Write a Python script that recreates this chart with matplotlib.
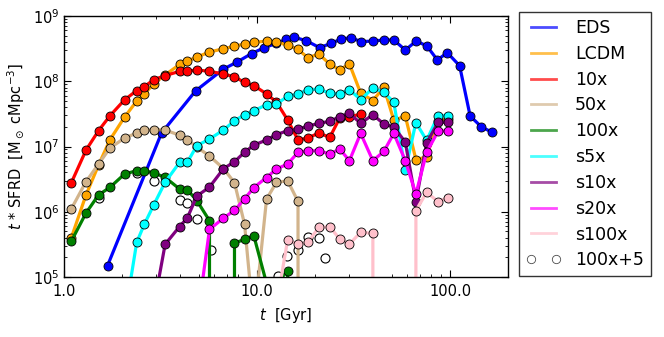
import numpy as np
import matplotlib
matplotlib.use('Agg')
import matplotlib.pyplot as plt
from matplotlib.lines import Line2D
from matplotlib.ticker import FormatStrFormatter

nan = np.nan

# shared output times of the runs [Gyr]
t_grid = [1.09, 1.30, 1.51, 1.73, 2.06, 2.38, 2.61, 2.92, 3.34, 3.97, 4.35, 4.88,
          5.67, 6.70, 7.64, 8.61, 9.62, 11.2, 12.6, 14.4, 16.3, 18.3, 20.9, 23.8,
          26.8, 30.1, 34.4, 39.8, 45.4, 51.1, 58.6, 66.5, 75.6, 86.6, 97.0]

# EDS has its own output times
t_eds = [1.68, 3.20, 4.80, 6.70, 7.88, 9.37, 10.9, 12.6, 14.2, 15.6, 18.0, 21.1,
         24.2, 27.3, 30.5, 34.7, 39.8, 45.4, 51.1, 58.6, 66.8, 75.8, 85.9, 96.7,
         112, 127, 145, 165]
sfrd_eds = [1.49e5, 1.61e7, 7.1e7, 1.54e8, 1.97e8, 2.66e8, 3.27e8, 3.82e8, 4.40e8,
            4.72e8, 4.18e8, 3.27e8, 3.82e8, 4.44e8, 4.65e8, 4.04e8, 4.14e8, 4.29e8,
            4.29e8, 3.01e8, 4.14e8, 3.47e8, 2.12e8, 2.74e8, 1.73e8, 2.93e7, 2.01e7,
            1.65e7]

sfrd_lcdm = [3.96e5, 1.81e6, 5.2e6, 1.27e7, 2.83e7, 4.98e7, 6.44e7, 9.17e7, 1.25e8,
             1.81e8, 2.04e8, 2.35e8, 2.81e8, 3.15e8, 3.44e8, 3.72e8, 3.93e8, 4.14e8,
             4.0e8, 3.56e8, 3.10e8, 2.29e8, 2.62e8, 1.83e8, 1.50e8, 1.84e8, 6.6e7,
             5.07e7, 8.08e7, 2.52e7, 2.93e7, 6.32e6, 6.9e6, 2.5e7, 2.6e7]

sfrd_10x = [2.76e6, 8.8e6, 1.75e7, 2.96e7, 5.2e7, 7.2e7, 8.3e7, 1.06e8, 1.22e8,
            1.42e8, 1.42e8, 1.49e8, 1.42e8, 1.29e8, 1.17e8, 9.6e7, 8.6e7, 6.4e7,
            4.8e7, 2.55e7, 1.26e7, 1.35e7, 1.61e7, 1.38e7, 2.73e7, 2.83e7, 3.15e7,
            nan, nan, nan, nan, nan, nan, nan, nan]

sfrd_50x = [1.10e6, 2.89e6, 5.39e6, 9.48e6, 1.35e7, 1.61e7, 1.76e7, 1.82e7, 1.79e7,
            1.49e7, 1.28e7, 9.8e6, 7.15e6, 4.6e6, 2.79e6, 6.5e5, 2e4, 1.57e6, 2.81e6,
            2.99e6, 1.44e6, 0, nan, nan, nan, nan, nan, nan, nan, nan, nan, nan, nan,
            nan, nan]

sfrd_100x = [3.52e5, 9.57e5, 1.81e6, 2.37e6, 3.79e6, 4.26e6, 4.26e6, 3.93e6, 3.37e6,
             2.23e6, 2.18e6, 1.48e6, 7.3e5, 0, 3.32e5, 3.76e5, 4.30e5, 8e4, 8e4,
             1.24e5, 0, nan, nan, nan, nan, nan, nan, nan, nan, nan, nan, nan, nan,
             nan, nan]

sfrd_s5x = [nan, nan, nan, nan, 2.4e4, 3.40e5, 6.49e5, 1.28e6, 2.83e6, 5.72e6,
            5.72e6, 1.03e7, 1.30e7, 1.79e7, 2.48e7, 3.07e7, 3.54e7, 4.37e7, 4.48e7,
            5.88e7, 6.38e7, 7.42e7, 7.6e7, 6.53e7, 6.38e7, 7.47e7, 5.21e7, 7.88e7,
            6.77e7, 4.76e7, 4.36e6, 2.33e7, 1.24e7, 2.97e7, 2.97e7]

sfrd_s10x = [nan, nan, nan, nan, nan, nan, nan, 3.6e4, 3.17e5, 5.94e5, 8.02e5,
             1.74e6, 2.39e6, 4.57e6, 5.85e6, 8.15e6, 1.05e7, 1.26e7, 1.52e7, 1.75e7,
             1.85e7, 2.04e7, 2.27e7, 2.43e7, 2.86e7, 3.23e7, 2.27e7, 3.07e7, 2.21e7,
             1.99e7, 1.17e7, 1.43e6, 1.13e7, 2.35e7, 2.35e7]

sfrd_s20x = [nan, nan, nan, nan, nan, nan, nan, nan, nan, nan, nan, 2.0e4, 5.35e5,
             8.02e5, 1.05e6, 1.57e6, 2.35e6, 3.35e6, 4.52e6, 5.39e6, 8.15e6, 8.62e6,
             8.62e6, 7.67e6, 9.16e6, 6.06e6, 1.59e7, 6.06e6, 8.44e6, 1.59e7, 6.06e6,
             1.87e6, 8.15e6, 1.71e7, 1.75e7]

sfrd_s100x = [nan, nan, nan, nan, nan, nan, nan, nan, nan, nan, nan, nan, nan, nan,
              nan, nan, nan, nan, 3.7e4, 3.69e5, 3.2e5, 3.4e5, 5.74e5, 5.9e5, 3.82e5,
              3.2e5, 4.84e5, 4.67e5, 0, 0, 0, 1.04e6, 1.99e6, 1.43e6, 1.64e6]

# 100x+5 (open circles)
t_100x5 = [1.51, 2.38, 2.92, 3.97, 4.35, 4.88, 5.79, 12.8, 14.3, 16.3, 18.3, 20.9, 22.4]
sfrd_100x5 = [1.60e6, 3.93e6, 2.99e6, 1.51e6, 1.35e6, 7.74e5, 2.55e5, 1.04e5, 2.12e5,
              2.59e5, 4.15e5, 4.0e5, 1.95e5]

runs = [('EDS', 'blue', t_eds, sfrd_eds),
        ('LCDM', 'orange', t_grid, sfrd_lcdm),
        ('10x', 'red', t_grid, sfrd_10x),
        ('50x', 'tan', t_grid, sfrd_50x),
        ('100x', 'green', t_grid, sfrd_100x),
        ('s5x', 'cyan', t_grid, sfrd_s5x),
        ('s10x', 'purple', t_grid, sfrd_s10x),
        ('s20x', 'magenta', t_grid, sfrd_s20x),
        ('s100x', 'pink', t_grid, sfrd_s100x)]

plt.rcParams['font.family'] = 'DejaVu Sans'
plt.rcParams['font.size'] = 10.5
plt.rcParams['axes.linewidth'] = 1.0

fig = plt.figure(figsize=(6.64, 3.37), dpi=100)
ax = fig.add_axes([0.0964, 0.178, 0.669, 0.7745])

ax.plot(t_100x5, sfrd_100x5, ls='none', marker='o', ms=6.5, mfc='white',
        mec='black', mew=0.8, zorder=1)

handles = []
for name, col, t, s in runs:
    ax.plot(t, s, '-o', color=col, lw=2.3, ms=6.5, mec='black', mew=0.6, zorder=2)
    handles.append(Line2D([], [], color=col, lw=2, alpha=0.7, label=name))
handles.append(Line2D([], [], ls='none', marker='o', ms=6, mfc='none',
                      mec='black', mew=0.6, alpha=0.7, label='100x+5'))

ax.set_xscale('log')
ax.set_yscale('log')
ax.set_xlim(1.0, 200)
ax.set_ylim(1e5, 1e9)
ax.xaxis.set_major_formatter(FormatStrFormatter('%.1f'))
ax.tick_params(which='both', direction='in', top=True, right=True)
ax.tick_params(which='major', length=5)
ax.tick_params(which='minor', length=2.5)
ax.tick_params(axis='x', which='major', pad=5)

ax.set_xlabel(r'$t$  [Gyr]', labelpad=5)
ax.set_ylabel(r'$t$ * SFRD  [M$_\odot$ cMpc$^{-3}$]')

leg = ax.legend(handles=handles, loc='upper left', bbox_to_anchor=(1.025, 1.015),
                borderaxespad=0, fontsize=12.5, numpoints=2, fancybox=False,
                labelspacing=0.45)
leg.get_frame().set_edgecolor('black')
leg.get_frame().set_linewidth(1.0)

fig.savefig('out.png', dpi=100)
